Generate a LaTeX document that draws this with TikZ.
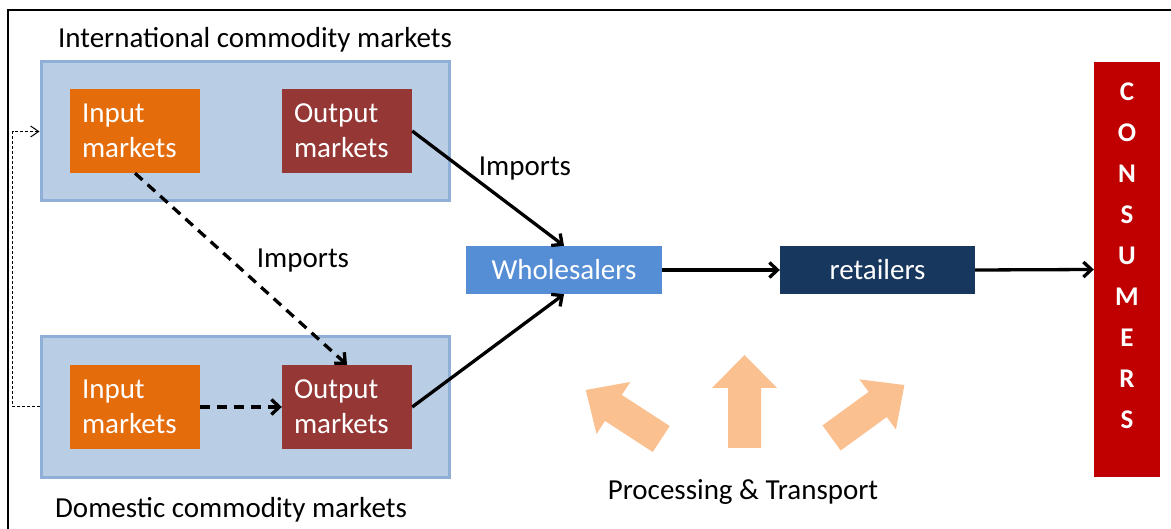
\documentclass[tikz,border=0pt]{standalone}
\usepackage{fontspec}
\setmainfont{Carlito}
\usetikzlibrary{arrows.meta}
\definecolor{panel}{HTML}{B9CDE5}
\definecolor{paneledge}{HTML}{8FAFD6}
\definecolor{inorange}{HTML}{E46C0A}
\definecolor{outred}{HTML}{953735}
\definecolor{wsblue}{HTML}{558ED5}
\definecolor{rtnavy}{HTML}{17375E}
\definecolor{conred}{HTML}{C00000}
\definecolor{procpeach}{HTML}{FAC090}

\begin{document}
\begin{tikzpicture}[x=1pt,y=-1pt,
  txt/.style={font=\fontsize{29}{35}\selectfont},
  panelbox/.style={rectangle, draw=paneledge, line width=3pt, fill=panel,
    minimum width=408pt, minimum height=139pt, inner sep=0pt},
  mkt/.style={rectangle, minimum width=130pt, minimum height=84pt,
    text width=106pt, inner xsep=12pt, inner ysep=0pt, align=left,
    text=white, txt},
  flowbox/.style={rectangle, minimum height=48pt, inner sep=0pt,
    text=white, txt},
  flow/.style={line width=3.3pt, -{Straight Barb[length=8pt,width=15pt]}},
  dflow/.style={flow, dash pattern=on 10pt off 7pt},
  feedback/.style={line width=1pt, dash pattern=on 3pt off 2pt,
    -{Straight Barb[length=8pt,width=11pt]}},
]
\useasboundingbox (0,0) rectangle (1171,529);
\clip (0,0) rectangle (1171,529);

% outer frame
\draw[line width=2.4pt] (8,545) -- (8,10) -- (1185,10);

% market panels
\node[panelbox] (intl) at (245,131.5) {};
\node[panelbox, minimum height=140pt] (dom) at (245,407) {};
\node[txt, anchor=base] (intlLbl) at (255,48) {International commodity markets};
\node[txt, anchor=base] (domLbl) at (231,517) {Domestic commodity markets};

\node[mkt, fill=inorange] (inT) at (135,131) {Input\\markets};
\node[mkt, fill=outred] (outT) at (347,131) {Output\\markets};
\node[mkt, fill=inorange] (inD) at (135,407) {Input\\markets};
\node[mkt, fill=outred] (outD) at (347,407) {Output\\markets};

% distribution chain
\node[flowbox, fill=wsblue, minimum width=196pt] (whole) at (564,270) {Wholesalers};
\node[flowbox, fill=rtnavy, minimum width=195pt] (retail) at (877.5,270) {retailers};
\node[rectangle, fill=conred, minimum width=66pt, minimum height=415pt,
  inner sep=0pt] (cons) at (1127,269.5) {};
\node[align=center, text=white, inner sep=0pt,
  font=\fontsize{27}{41}\selectfont\bfseries] (consTxt)
  at ([yshift=14pt]cons.center) {C\\O\\N\\S\\U\\M\\E\\R\\S};

% flows
\draw[flow] (outT.east) -- (whole.north);
\draw[flow] (outD.east) -- (whole.south);
\draw[flow] (whole.east) -- (retail.west);
\draw[flow] (retail.east) -- (cons.west);
\draw[dflow] (inT.south) -- (outD.north);
\draw[dflow] (inD.east) -- (outD.west);
\draw[feedback] (dom.west) -- ++(-27,0) |- (intl.west);

\node[txt, anchor=base] (impTop) at (525,176) {Imports};
\node[txt, anchor=base] (impMid) at (303,268) {Imports};

% processing and transport arrows
\fill[procpeach, shift={(744.5,401.5)}, rotate=90]
  (-46.5,-16.5) -- (13.5,-16.5) -- (13.5,-32.5) -- (46.5,0)
  -- (13.5,32.5) -- (13.5,16.5) -- (-46.5,16.5) -- cycle;
\fill[procpeach, shift={(623.5,414.5)}, rotate=147]
  (-45,-15.5) -- (12,-15.5) -- (12,-31) -- (45,0)
  -- (12,31) -- (12,15.5) -- (-45,15.5) -- cycle;
\fill[procpeach, shift={(868,411.5)}, rotate=36]
  (-45,-15.5) -- (12,-15.5) -- (12,-31) -- (45,0)
  -- (12,31) -- (12,15.5) -- (-45,15.5) -- cycle;
\node[txt, anchor=base] (procLbl) at (743,500) {Processing \& Transport};
\end{tikzpicture}
\end{document}
